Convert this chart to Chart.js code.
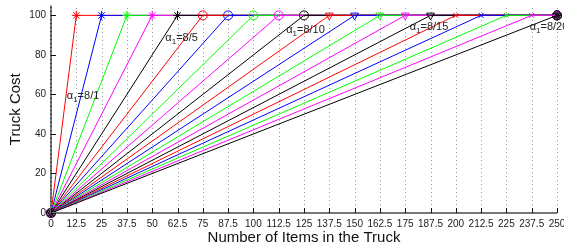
<!DOCTYPE html>
<html>
<head>
<meta charset="utf-8">
<script src="https://cdn.jsdelivr.net/npm/chart.js@4"></script>
<style>
    html, body { margin: 0; padding: 0; background: #fff; }
</style>
</head>
<body>
<canvas id="truckChart" width="564" height="248"></canvas>
<script>
// number of items at which each truck reaches its full cost
const breakPoints = [12.5, 25, 37.5, 50, 62.5, 75, 87.5, 100, 112.5, 125,
                     137.5, 150, 162.5, 175, 187.5, 200, 212.5, 225, 237.5, 250];
const startCost = 0;
const fullCost = 100;
const maxItems = 250;

const xTicks = [0, 12.5, 25, 37.5, 50, 62.5, 75, 87.5, 100, 112.5, 125,
                137.5, 150, 162.5, 175, 187.5, 200, 212.5, 225, 237.5, 250];
const yTicks = [0, 20, 40, 60, 80, 100];

// alpha annotations: text, x (items), y (cost, baseline)
const alphaText = ['8/1', '8/5', '8/10', '8/15', '8/20'];
const alphaX = [7.8, 56.5, 116.2, 177.2, 236.5];
const alphaY = [57.9, 87, 91.3, 92.5, 92.5];

const lineColors = ['#ff0000', '#0000ff', '#00ff00', '#ff00ff', '#000000'];
const markerStyles = ['star', 'circle', 'triangle', 'crossRot'];
const FONT = '"Liberation Sans", Arial, Helvetica, sans-serif';

const datasets = breakPoints.map((bp, i) => {
    const style = markerStyles[Math.floor(i / 5)];
    return {
        data: [{ x: 0, y: startCost }, { x: bp, y: fullCost }, { x: maxItems, y: fullCost }],
        borderColor: lineColors[i % 5],
        borderWidth: 1,
        pointStyle: style,
        pointRotation: style === 'triangle' ? 180 : 0,
        pointRadius: style === 'crossRot' ? 3.5 : 4.5,
        pointBorderWidth: 1,
        pointBorderColor: lineColors[i % 5],
        pointBackgroundColor: 'rgba(0,0,0,0)',
        tension: 0,
        clip: false,
        order: -i
    };
});

const axesPlugin = {
    id: 'matlabAxes',
    beforeDatasetsDraw(chart) {
        // dotted vertical grid, pixel aligned
        const ctx = chart.ctx;
        const xs = chart.scales.x;
        const area = chart.chartArea;
        ctx.save();
        ctx.strokeStyle = '#9a9a9a';
        ctx.lineWidth = 1;
        ctx.setLineDash([1, 3]);
        ctx.beginPath();
        xTicks.forEach(v => {
            const x = Math.round(xs.getPixelForValue(v)) + 0.5;
            ctx.moveTo(x, area.bottom);
            ctx.lineTo(x, area.top);
        });
        ctx.stroke();
        ctx.restore();
    },
    afterDraw(chart) {
        const ctx = chart.ctx;
        const xs = chart.scales.x, ys = chart.scales.y;
        const area = chart.chartArea;
        ctx.save();
        // axis lines
        ctx.strokeStyle = '#777';
        ctx.lineWidth = 2;
        ctx.beginPath();
        ctx.moveTo(area.left, area.top);
        ctx.lineTo(area.left, area.bottom);
        ctx.lineTo(area.right, area.bottom);
        ctx.stroke();
        // minor ticks on y
        ctx.strokeStyle = '#444';
        ctx.lineWidth = 1;
        ctx.beginPath();
        for (let v = 0; v <= 105; v += 2) {
            const y = Math.round(ys.getPixelForValue(v)) + 0.5;
            ctx.moveTo(area.left - 1, y);
            ctx.lineTo(area.left + 1, y);
        }
        ctx.stroke();
        // major ticks inward
        ctx.strokeStyle = '#111';
        ctx.beginPath();
        xTicks.forEach(v => {
            const x = Math.round(xs.getPixelForValue(v)) + 0.5;
            ctx.moveTo(x, area.bottom);
            ctx.lineTo(x, area.bottom - 5);
        });
        yTicks.forEach(v => {
            const y = Math.round(ys.getPixelForValue(v)) + 0.5;
            ctx.moveTo(area.left, y);
            ctx.lineTo(area.left + 5, y);
        });
        ctx.stroke();
        // alpha labels
        ctx.fillStyle = '#222';
        ctx.textBaseline = 'alphabetic';
        ctx.textAlign = 'left';
        alphaText.forEach((t, i) => {
            let px = xs.getPixelForValue(alphaX[i]);
            const py = ys.getPixelForValue(alphaY[i]);
            ctx.font = '11px ' + FONT;
            ctx.fillText('\u03b1', px, py);
            px += ctx.measureText('\u03b1').width;
            ctx.font = '8px ' + FONT;
            ctx.fillText('1', px, py + 3);
            px += ctx.measureText('1').width;
            ctx.font = '11px ' + FONT;
            ctx.fillText('=' + t, px, py);
        });
        ctx.restore();
    }
};

new Chart(document.getElementById('truckChart'), {
    type: 'line',
    data: { datasets: datasets },
    options: {
        responsive: false,
        animation: false,
        layout: { padding: { top: 3, right: 7, left: 0, bottom: 0 } },
        plugins: { legend: { display: false }, tooltip: { enabled: false } },
        scales: {
            x: {
                type: 'linear',
                min: 0,
                max: maxItems,
                afterBuildTicks: s => { s.ticks = xTicks.map(v => ({ value: v })); },
                afterFit: s => { s.height = 35; s.paddingLeft = 0; s.paddingRight = 0; },
                ticks: {
                    autoSkip: false, maxRotation: 0, minRotation: 0, padding: 5,
                    color: '#222', font: { family: FONT, size: 10 },
                    callback: v => String(v)
                },
                grid: { display: false, drawTicks: false },
                border: { display: false },
                title: { display: true, text: 'Number of Items in the Truck', color: '#111',
                         font: { family: FONT, size: 15 }, padding: { top: 0, bottom: 1 } }
            },
            y: {
                type: 'linear',
                min: 0,
                max: 105,
                afterBuildTicks: s => { s.ticks = yTicks.map(v => ({ value: v })); },
                afterFit: s => { s.width = 51; s.paddingTop = 0; s.paddingBottom = 0; },
                ticks: { padding: 5, color: '#222', font: { family: FONT, size: 10 } },
                grid: { display: false, drawTicks: false },
                border: { display: false },
                title: { display: true, text: 'Truck Cost', color: '#111',
                         font: { family: FONT, size: 15 }, padding: { top: 7, bottom: 0 } }
            }
        }
    },
    plugins: [axesPlugin]
});
</script>
</body>
</html>
